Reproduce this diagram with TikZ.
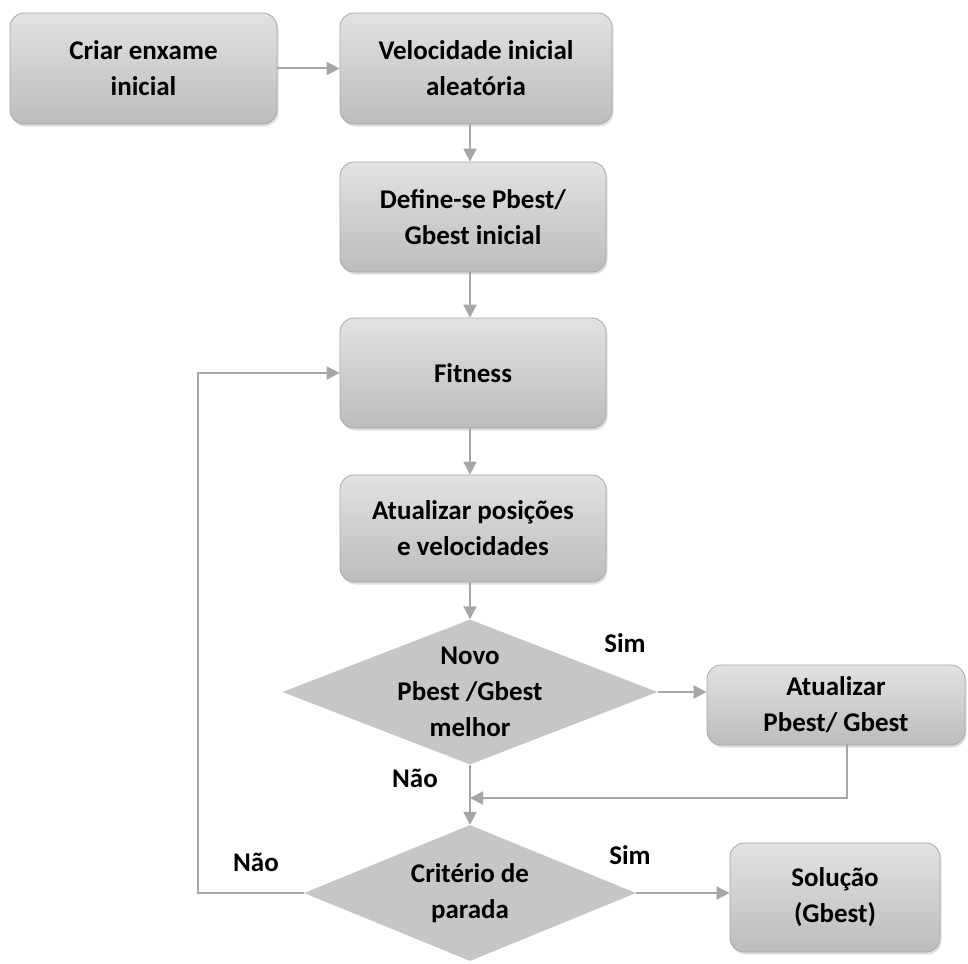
\documentclass[tikz,border=0pt]{standalone}
\usepackage{fontspec}
\setmainfont{Carlito}
\usetikzlibrary{shapes.geometric,arrows.meta,shadows}
\definecolor{edgegray}{HTML}{A6A6A6}
\definecolor{boxtop}{HTML}{E2E2E2}
\definecolor{boxbot}{HTML}{BCBCBC}
\definecolor{boxline}{HTML}{A8A8A8}
\definecolor{diafill}{HTML}{C6C6C6}
\tikzset{
  txt/.style={font=\fontsize{27}{36}\selectfont\bfseries, align=center, text=black},
  procbox/.style={txt, rectangle, rounded corners=14pt, draw=boxline, line width=0.8pt,
    top color=boxtop, bottom color=boxbot, inner sep=0pt,
    drop shadow={shadow xshift=1.5pt, shadow yshift=-2.5pt, opacity=0.25, fill=gray}},
  decision/.style={txt, diamond, fill=diafill, draw=none, inner sep=-18pt, shape aspect=2.6},
  flow/.style={draw=edgegray, line width=2pt, -{Triangle[length=13pt, width=13pt]}},
  tag/.style={txt}
}
\begin{document}
\begin{tikzpicture}[x=1pt, y={(0,-1pt)}]
  \useasboundingbox (0,0) rectangle (968,963);

  % process boxes
  \node[procbox, minimum width=267pt, minimum height=111pt] (criar) at (143.5,68.5) {Criar enxame\\inicial};
  \node[procbox, minimum width=272pt, minimum height=111pt] (veloc) at (476,68.5) {Velocidade inicial\\aleatória};
  \node[procbox, minimum width=266pt, minimum height=110pt] (define) at (473,217) {Define-se Pbest/\\Gbest inicial};
  \node[procbox, minimum width=266pt, minimum height=110pt] (fit) at (473,373) {Fitness};
  \node[procbox, minimum width=266pt, minimum height=107pt] (atual) at (473,528.5) {Atualizar posições\\e velocidades};
  \node[procbox, minimum width=258pt, minimum height=80pt] (upd) at (836,705) {Atualizar\\Pbest/ Gbest};
  \node[procbox, minimum width=210pt, minimum height=109pt] (sol) at (835,897.5) {Solução\\(Gbest)};

  % decisions
  \node[decision, minimum width=375pt, minimum height=145pt] (novo) at (470,692) {Novo\\Pbest /Gbest\\melhor};
  \node[decision, minimum width=332pt, minimum height=136pt] (crit) at (470,893) {Critério de\\parada};

  % connectors
  \draw[flow] (criar.east) -- (veloc.west);
  \draw[flow] (veloc.south -| 470,0) -- (define.north -| 470,0);
  \draw[flow] (define.south -| 470,0) -- (fit.north -| 470,0);
  \draw[flow] (fit.south -| 470,0) -- (atual.north -| 470,0);
  \draw[flow] (atual.south -| 470,0) -- (novo.north);
  \draw[flow] (novo.east) -- (upd.west |- novo.east);
  \coordinate (join) at (470,798);
  \draw[flow] (upd.south -| 847,0) |- (join);
  \draw[flow] (novo.south) -- (crit.north);
  \draw[flow] (crit.east) -- (sol.west |- crit.east);
  \coordinate (loop) at (198,893);
  \draw[flow] (crit.west) -- (loop) |- (fit.west);

  % branch labels
  \node[tag] (sim1) at (625,643) {Sim};
  \node[tag] (nao1) at (415,778) {Não};
  \node[tag] (sim2) at (630,855) {Sim};
  \node[tag] (nao2) at (256,862) {Não};
\end{tikzpicture}
\end{document}
